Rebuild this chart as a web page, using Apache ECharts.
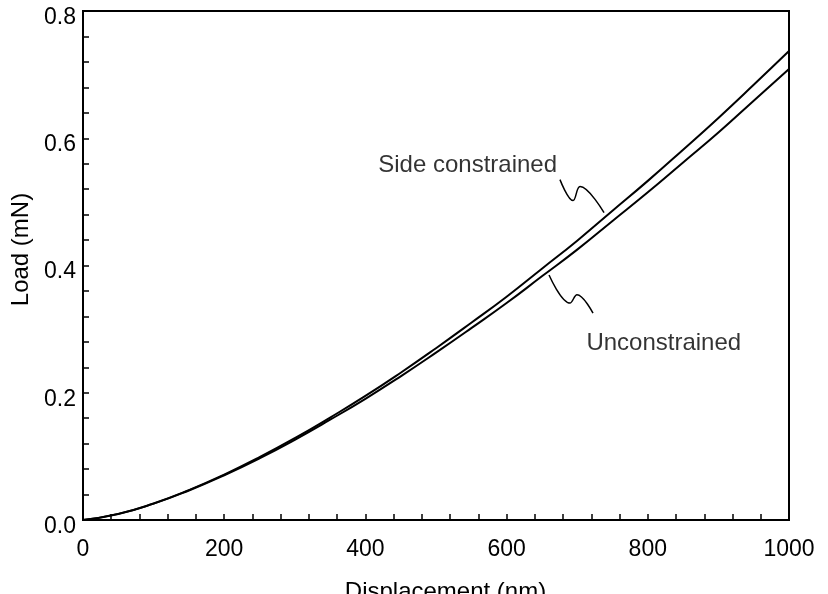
<!DOCTYPE html>
<html><head><meta charset="utf-8">
<script src="https://cdn.jsdelivr.net/npm/echarts@6/dist/echarts.min.js"></script>
<style>html,body{margin:0;padding:0;background:#fff}#c{width:828px;height:594px}</style>
</head><body><div id="c"></div>
<script>
const displacement = [0,50,100,150,200,250,300,350,400,450,500,550,600,650,700,750,800,850,900,950,1000];
const sideConstrained = [0,0.0096,0.026,0.047,0.0714,0.0987,0.1286,0.161,0.195,0.2315,0.270,0.310,0.351,0.395,0.439,0.486,0.533,0.582,0.632,0.684,0.737];
const unconstrained = [0,0.0095,0.0257,0.0464,0.0703,0.0969,0.1261,0.1576,0.1905,0.2258,0.263,0.3015,0.341,0.383,0.425,0.470,0.515,0.562,0.609,0.659,0.709];
const sideLeader = [[675.6,0.535],[694.1,0.502],[704.0,0.524],[738.0,0.483]];
const uncLeader = [[660.1,0.385],[689.8,0.341],[699.7,0.354],[722.4,0.325]];
const labelsText = [["Side constrained",671.4,0.557,'left'],["Unconstrained",713,0.277,'right']];
const xAxisName = "Displacement (nm)";
const yAxisName = "Load (mN)";

const FONT = '"Liberation Sans", Arial, sans-serif';
const chart = echarts.init(document.getElementById('c'), null, {renderer:'canvas'});
const zip = (xs, ys) => xs.map((x,i)=>[x, ys[i]]);
const lineBase = {type:'line', showSymbol:false, symbol:'none', silent:true, animation:false};
chart.setOption({
  animation:false,
  grid:{left:83,right:39,top:11,bottom:74,outerBoundsMode:'none',containLabel:false,show:true,borderColor:'#000',borderWidth:2,backgroundColor:'transparent'},
  xAxis:{type:'value',min:0,max:1000,interval:200,
    name:xAxisName,nameLocation:'middle',nameGap:60,
    nameTextStyle:{fontFamily:FONT,fontSize:24,color:'#000',padding:[0,0,0,19]},
    axisLine:{show:true,onZero:false,lineStyle:{color:'#000',width:2}},
    axisTick:{show:true,inside:true,length:6,lineStyle:{color:'#000',width:1.5}},
    minorTick:{show:true,splitNumber:5,length:6,lineStyle:{color:'#000',width:1.5}},
    splitLine:{show:false},
    axisLabel:{fontFamily:FONT,fontSize:23,color:'#000',margin:18,formatter:v=>String(v)}},
  yAxis:{type:'value',min:0,max:0.8,interval:0.2,
    name:yAxisName,nameLocation:'middle',nameGap:49,
    nameTextStyle:{fontFamily:FONT,fontSize:24,color:'#000',padding:[0,0,0,32]},
    axisLine:{show:true,onZero:false,lineStyle:{color:'#000',width:2}},
    axisTick:{show:true,inside:true,length:6,lineStyle:{color:'#000',width:1.5}},
    minorTick:{show:true,splitNumber:5,length:6,lineStyle:{color:'#000',width:1.5}},
    splitLine:{show:false},
    axisLabel:{fontFamily:FONT,fontSize:23,color:'#000',margin:7,verticalAlign:'top',lineHeight:13,
      formatter:v=>v.toFixed(1)}},
  series:[
    Object.assign({},lineBase,{name:'Side constrained',data:zip(displacement,sideConstrained),smooth:true,lineStyle:{color:'#000',width:2}}),
    Object.assign({},lineBase,{name:'Unconstrained',data:zip(displacement,unconstrained),smooth:true,lineStyle:{color:'#000',width:2}}),
    Object.assign({},lineBase,{data:sideLeader,smooth:0.4,lineStyle:{color:'#000',width:1.5}}),
    Object.assign({},lineBase,{data:uncLeader,smooth:0.4,lineStyle:{color:'#000',width:1.5}}),
    {type:'scatter',silent:true,symbolSize:0,animation:false,
      data:labelsText.map(l=>({value:[l[1],l[2]],label:{show:true,formatter:l[0],position:l[3],fontSize:24,color:'#000'}})),
      label:{distance:0,fontFamily:FONT,color:'#000'}}
  ]
});
</script></body></html>
